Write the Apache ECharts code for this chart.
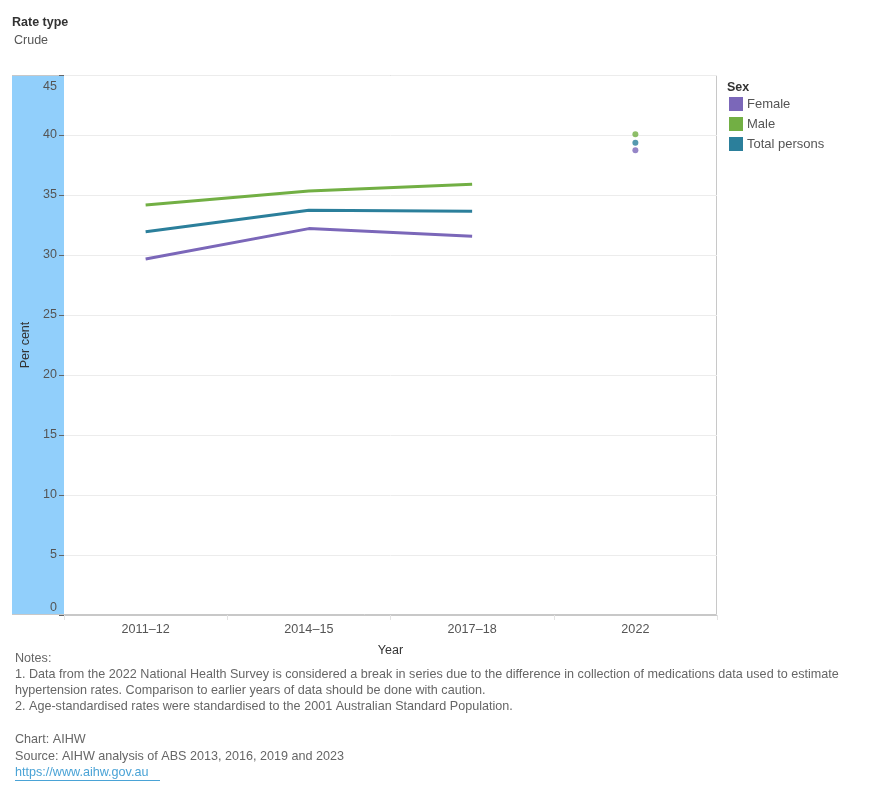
<!DOCTYPE html>
<html>
<head>
<meta charset="utf-8">
<script src="https://cdn.jsdelivr.net/npm/echarts@6/dist/echarts.min.js"></script>
<style>
  html, body { margin: 0; padding: 0; background: #fff; }
  #chart-container { width: 890px; height: 800px; }
</style>
</head>
<body>
<div id="chart-container"></div>
<script>
// data
const years = ['2011–12', '2014–15', '2017–18', '2022'];
const female = [29.67, 32.2, 31.57, 38.73];
const male = [34.17, 35.33, 35.9, 40.06];
const totalPersons = [31.94, 33.72, 33.65, 39.36];

const notes = [
  'Notes:',
  '1. Data from the 2022 National Health Survey is considered a break in series due to the difference in collection of medications data used to estimate',
  'hypertension rates. Comparison to earlier years of data should be done with caution.',
  '2. Age-standardised rates were standardised to the 2001 Australian Standard Population.',
];
const credits = ['Chart: AIHW', 'Source: AIHW analysis of ABS 2013, 2016, 2019 and 2023'];
const link = 'https://www.aihw.gov.au';

const FONT = '"Liberation Sans", Arial, sans-serif';
const colors = { Female: '#7b67b9', Male: '#72af44', 'Total persons': '#2b7f9b' };

const series = [];
const addSeries = (name, values) => {
  // the three survey years are joined, 2022 is a break in series
  series.push({
    name,
    type: 'line',
    data: values.slice(0, 3).concat([null]),
    showSymbol: false,
    lineStyle: { width: 3, color: colors[name] },
    itemStyle: { color: colors[name] },
    z: 3,
  });
  series.push({
    name,
    type: 'scatter',
    data: [null, null, null, values[3]],
    symbolSize: 6,
    itemStyle: { color: colors[name] },
    z: 3,
  });
};
addSeries('Female', female);
addSeries('Male', male);
addSeries('Total persons', totalPersons);

const textEls = [];
notes.forEach((t, i) => {
  textEls.push({ type: 'text', x: 15, y: 659 + i * 16, style: { text: t, fill: '#666', font: '12.6px ' + FONT, verticalAlign: 'middle' } });
});
credits.forEach((t, i) => {
  textEls.push({ type: 'text', x: 15, y: 740 + i * 17, style: { text: t, fill: '#666', font: '12.6px ' + FONT, verticalAlign: 'middle' } });
});

const dom = document.getElementById('chart-container');
const myChart = echarts.init(dom, null, { renderer: 'canvas' });

const option = {
  animation: false,
  textStyle: { fontFamily: FONT },
  title: [
    { text: 'Rate type', left: 12, top: 16, padding: 0, textStyle: { fontSize: 12.5, fontWeight: 'bold', color: '#333', fontFamily: FONT } },
    { text: 'Crude', left: 14, top: 34, padding: 0, textStyle: { fontSize: 12.5, fontWeight: 'normal', color: '#555', fontFamily: FONT } },
    { text: 'Sex', left: 727, top: 81, padding: 0, textStyle: { fontSize: 12.5, fontWeight: 'bold', color: '#333', fontFamily: FONT } },
  ],
  legend: {
    orient: 'vertical',
    left: 729,
    top: 97,
    padding: 0,
    itemWidth: 14,
    itemHeight: 14,
    itemGap: 6,
    icon: 'rect',
    data: ['Female', 'Male', 'Total persons'],
    textStyle: { fontSize: 13, color: '#555', fontFamily: FONT, padding: [0, 0, 0, -1] },
  },
  grid: { left: 64, right: 173, top: 75, bottom: 185, containLabel: false },
  xAxis: {
    type: 'category',
    data: years,
    boundaryGap: true,
    name: 'Year',
    nameLocation: 'middle',
    nameGap: 29,
    nameTextStyle: { fontSize: 12.5, color: '#333' },
    axisLine: { lineStyle: { color: '#c8c8c8' } },
    axisTick: { show: true, length: 5, lineStyle: { color: '#e3e3e3' } },
    axisLabel: { fontSize: 12.6, color: '#555', margin: 8 },
  },
  yAxis: {
    type: 'value',
    min: 0,
    max: 45,
    interval: 5,
    name: 'Per cent',
    nameLocation: 'middle',
    nameGap: 23,
    nameTextStyle: { fontSize: 12.5, color: '#333' },
    axisLine: { show: false },
    axisTick: { show: true, length: 5, lineStyle: { color: '#666' } },
    splitLine: { lineStyle: { color: '#ececec' } },
    axisLabel: {
      fontSize: 12.5,
      color: '#555',
      margin: 7,
      formatter: (v) => (v === 0 ? '{lo|0}' : v === 45 ? '{hi|45}' : String(v)),
      rich: {
        lo: { fontSize: 12.5, color: '#555', padding: [0, 0, 15, 0] },
        hi: { fontSize: 12.5, color: '#555', padding: [23, 0, 0, 0] },
      },
    },
  },
  graphic: [
    { type: 'rect', shape: { x: 12, y: 75, width: 52, height: 540 }, style: { fill: '#91cffb' }, z: -5 },
    {
      type: 'polyline',
      shape: { points: [[12, 75.5], [716.5, 75.5], [716.5, 614.5], [12, 614.5]] },
      style: { fill: 'none', stroke: '#c8c8c8', lineWidth: 1 },
      z: -4,
    },
    ...textEls,
    { type: 'text', x: 15, y: 773, style: { text: link, fill: '#4aa3d6', font: '12.6px ' + FONT, verticalAlign: 'middle' } },
    { type: 'line', shape: { x1: 15, y1: 780.5, x2: 160, y2: 780.5 }, style: { stroke: '#4aa3d6', lineWidth: 1 } },
  ],
  series,
};

myChart.setOption(option);
window.addEventListener('resize', myChart.resize);
</script>
</body>
</html>
